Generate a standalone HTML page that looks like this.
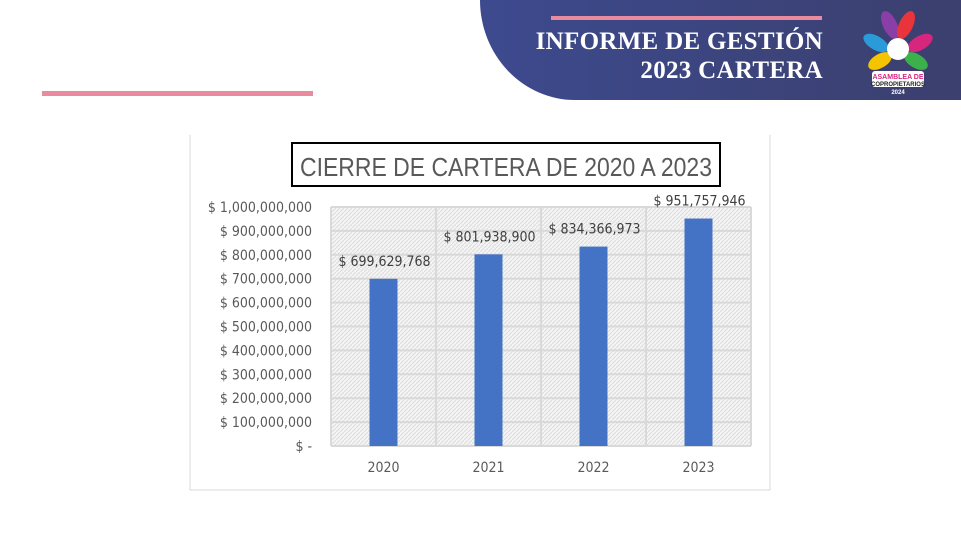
<!DOCTYPE html>
<html><head><meta charset="utf-8"><style>
body{margin:0;width:961px;height:536px;background:#fff;position:relative;overflow:hidden;font-family:"Liberation Sans",sans-serif}
.hdr{position:absolute;left:480px;top:0;width:500px;height:100px;background:linear-gradient(90deg,#3d4a8e,#3b3f6c);border-bottom-left-radius:95px 100px}
.t{position:absolute;right:138px;color:#fff;font-family:"Liberation Serif",serif;font-weight:bold;font-size:25px;letter-spacing:0.3px;text-align:right;white-space:nowrap}
</style></head><body>
<div class="hdr"></div>
<div style="position:absolute;left:551px;top:16px;width:271px;height:4px;background:#e98a9e"></div>
<div class="t" style="top:28px">INFORME DE GESTIÓN</div>
<div class="t" style="top:57px">2023 CARTERA</div>
<svg style="position:absolute;left:862px;top:5px" width="72" height="92" viewBox="0 0 72 92">
<ellipse cx="28" cy="20" rx="7" ry="15" fill="#8b3fa6" transform="rotate(-25 28 20)"/>
<ellipse cx="44" cy="20" rx="7" ry="15" fill="#e8343a" transform="rotate(25 44 20)"/>
<ellipse cx="14" cy="38" rx="7" ry="14" fill="#2a9ad8" transform="rotate(-60 14 38)"/>
<ellipse cx="58" cy="38" rx="7" ry="14" fill="#d6267e" transform="rotate(60 58 38)"/>
<ellipse cx="18" cy="56" rx="7" ry="13" fill="#f5c400" transform="rotate(-120 18 56)"/>
<ellipse cx="54" cy="56" rx="7" ry="13" fill="#3cb04a" transform="rotate(120 54 56)"/>
<circle cx="36" cy="44" r="11" fill="#fff"/>
<rect x="10" y="66" width="52" height="16" rx="3" fill="#fff"/>
<text x="36" y="74" font-size="7" font-weight="bold" fill="#d6267e" text-anchor="middle">ASAMBLEA DE</text>
<text x="36" y="81" font-size="6" font-weight="bold" fill="#222" text-anchor="middle">COPROPIETARIOS</text>
<text x="36" y="89" font-size="6" font-weight="bold" fill="#fff" text-anchor="middle">2024</text>
</svg>
<div style="position:absolute;left:42px;top:91px;width:271px;height:5px;background:#e98a9e"></div>
<svg id="chart" style="position:absolute;left:0;top:0" width="961" height="536">
<defs><pattern id="hatch" width="4" height="4" patternUnits="userSpaceOnUse"><rect width="4" height="4" fill="#f4f4f4"/><path d="M0,4 L4,0" stroke="#dcdcdc" stroke-width="1"/></pattern></defs>
<path d="M190,135 V490 H770 V135" fill="none" stroke="#d9d9d9"/>
<rect x="292" y="143" width="428" height="43" fill="#fff" stroke="#000" stroke-width="2"/>
<text x="300" y="176" textLength="412" lengthAdjust="spacingAndGlyphs" font-family="Liberation Sans" font-size="26" fill="#595959">CIERRE DE CARTERA DE 2020 A 2023</text>
<rect x="331" y="207" width="420" height="239" fill="url(#hatch)"/>
<g id="grid"></g><g id="bars"></g><g id="labels"></g>
</svg>
<script>
const categories=["2020","2021","2022","2023"];
const values=[699629768,801938900,834366973,951757946];
const valueLabels=["$ 699,629,768","$ 801,938,900","$ 834,366,973","$ 951,757,946"];
const yTicks=[0,100000000,200000000,300000000,400000000,500000000,600000000,700000000,800000000,900000000,1000000000];
const yTickLabels=["$ -","$ 100,000,000","$ 200,000,000","$ 300,000,000","$ 400,000,000","$ 500,000,000","$ 600,000,000","$ 700,000,000","$ 800,000,000","$ 900,000,000","$ 1,000,000,000"];
const NS="http://www.w3.org/2000/svg";
const X0=331,X1=751,Y0=446,Y1=207,YMAX=1000000000;
const y=v=>Y0-(v/YMAX)*(Y0-Y1);
const band=(X1-X0)/categories.length;
const x=i=>X0+band*i+band/2;
const g=document.getElementById('grid'),b=document.getElementById('bars'),l=document.getElementById('labels');
function mk(tag,a){const e=document.createElementNS(NS,tag);for(const k in a)e.setAttribute(k,a[k]);return e;}
yTicks.forEach((t,i)=>{
 const ln=mk('line',{x1:X0,x2:X1,y1:y(t),y2:y(t),stroke:'#d9d9d9','stroke-width':2});
 
 
 g.appendChild(ln);
 const tx=mk('text',{x:312,y:y(t)+5,'text-anchor':'end','font-size':14,fill:'#595959','font-family':'DejaVu Sans Condensed, Liberation Sans'});
 tx.textContent=yTickLabels[i];
 
 
 l.appendChild(tx);
});
for(let i=0;i<=categories.length;i++){
 const ln=mk('line',{x1:X0+band*i,x2:X0+band*i,y1:Y1,y2:Y0,stroke:'#d9d9d9','stroke-width':2});
 
 
 g.appendChild(ln);
}
categories.forEach((c,i)=>{
 const r=mk('rect',{x:x(i)-14,y:y(values[i]),width:28,height:Y0-y(values[i]),fill:'#4472c4'});
 
 
 b.appendChild(r);
 const vl=mk('text',{x:x(i)+1,y:y(values[i])-13,'text-anchor':'middle','font-size':14,fill:'#404040','font-family':'DejaVu Sans Condensed, Liberation Sans'});
 vl.textContent=valueLabels[i];
 
 
 l.appendChild(vl);
 const cl=mk('text',{x:x(i),y:472,'text-anchor':'middle','font-size':14,fill:'#595959','font-family':'DejaVu Sans Condensed, Liberation Sans'});
 cl.textContent=c;
 
 
 l.appendChild(cl);
});
</script>
</body></html>
